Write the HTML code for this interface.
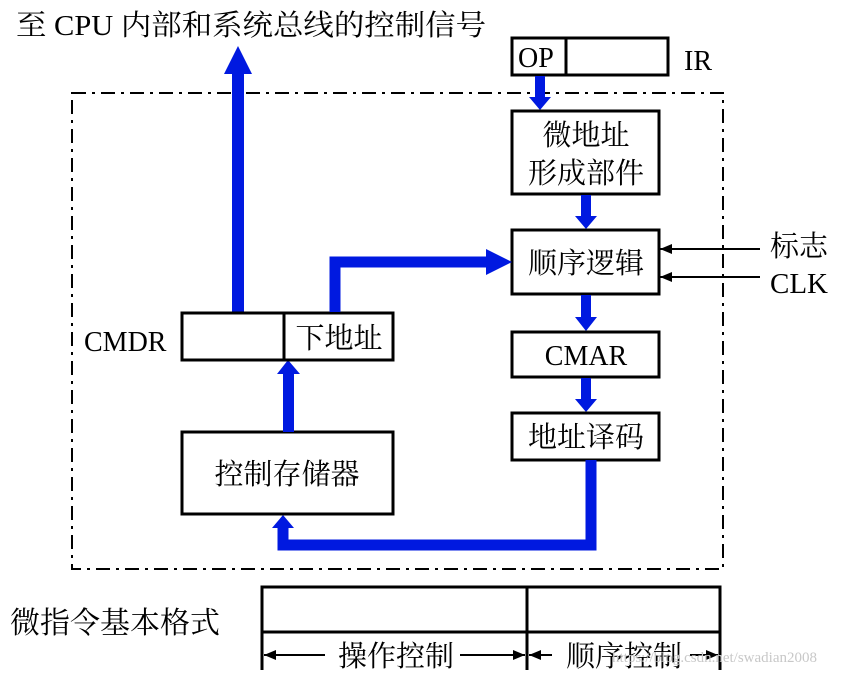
<!DOCTYPE html>
<html><head><meta charset="utf-8"><style>
html,body{margin:0;padding:0;background:#fff;}
svg{display:block;}
text{font-family:"Liberation Serif","Noto Serif CJK SC","Noto Sans CJK SC",serif;fill:#000;}
</style></head><body>
<svg width="849" height="676" viewBox="0 0 849 676" xmlns="http://www.w3.org/2000/svg">
<text x="16" y="35" font-size="29" textLength="470" lengthAdjust="spacingAndGlyphs">至 CPU 内部和系统总线的控制信号</text>
<rect x="72" y="93" width="651" height="476" fill="none" stroke="#000" stroke-width="2" stroke-dasharray="14,6,3,6"/>
<rect x="232" y="72" width="12" height="242" fill="#0019e0"/>
<polygon points="224,74 252,74 238,46" fill="#0019e0"/>
<rect x="512" y="38" width="156" height="37" fill="#fff" stroke="#000" stroke-width="3"/>
<line x1="566" y1="38" x2="566" y2="75" stroke="#000" stroke-width="3"/>
<text x="518" y="67" font-size="28">OP</text>
<text x="684" y="70" font-size="28">IR</text>
<rect x="535" y="76" width="10" height="22" fill="#0019e0"/>
<polygon points="529,97 551,97 540,110" fill="#0019e0"/>
<rect x="512" y="111" width="147" height="83" fill="#fff" stroke="#000" stroke-width="3"/>
<text x="586" y="145" font-size="29" text-anchor="middle">微地址</text>
<text x="586" y="183" font-size="29" text-anchor="middle">形成部件</text>
<rect x="581" y="195" width="10" height="22" fill="#0019e0"/>
<polygon points="575,216 597,216 586,229" fill="#0019e0"/>
<rect x="512" y="230" width="147" height="64" fill="#fff" stroke="#000" stroke-width="3"/>
<text x="586" y="273" font-size="29" text-anchor="middle">顺序逻辑</text>
<line x1="660" y1="249" x2="760" y2="249" stroke="#000" stroke-width="2"/>
<polygon points="660,249 672,244 672,254" fill="#000"/>
<line x1="660" y1="277" x2="760" y2="277" stroke="#000" stroke-width="2"/>
<polygon points="660,277 672,272 672,282" fill="#000"/>
<text x="770" y="256" font-size="29">标志</text>
<text x="770" y="293" font-size="29">CLK</text>
<rect x="581" y="295" width="10" height="23" fill="#0019e0"/>
<polygon points="575,317 597,317 586,331" fill="#0019e0"/>
<rect x="512" y="332" width="147" height="45" fill="#fff" stroke="#000" stroke-width="3"/>
<text x="586" y="365" font-size="28" text-anchor="middle" font-family="Liberation Sans">CMAR</text>
<rect x="581" y="378" width="10" height="22" fill="#0019e0"/>
<polygon points="575,399 597,399 586,412" fill="#0019e0"/>
<rect x="512" y="413" width="147" height="47" fill="#fff" stroke="#000" stroke-width="3"/>
<text x="586" y="447" font-size="29" text-anchor="middle">地址译码</text>
<polyline points="591,460 591,545 283,545 283,528" fill="none" stroke="#0019e0" stroke-width="11"/>
<polygon points="272,528 294,528 283,515" fill="#0019e0"/>
<rect x="182" y="432" width="211" height="82" fill="#fff" stroke="#000" stroke-width="3"/>
<text x="287" y="484" font-size="29" text-anchor="middle">控制存储器</text>
<rect x="283" y="372" width="11" height="60" fill="#0019e0"/>
<polygon points="277,374 300,374 288,360" fill="#0019e0"/>
<rect x="182" y="313" width="211" height="47" fill="#fff" stroke="#000" stroke-width="3"/>
<line x1="284" y1="313" x2="284" y2="360" stroke="#000" stroke-width="3"/>
<text x="84" y="351" font-size="28">CMDR</text>
<text x="339" y="348" font-size="29" text-anchor="middle">下地址</text>
<polyline points="335,312 335,262 488,262" fill="none" stroke="#0019e0" stroke-width="11"/>
<polygon points="486,249 486,275 512,262" fill="#0019e0"/>
<text x="10" y="633" font-size="30">微指令基本格式</text>
<rect x="262" y="587" width="458" height="45" fill="none" stroke="#000" stroke-width="3"/>
<line x1="527" y1="587" x2="527" y2="670" stroke="#000" stroke-width="3"/>
<line x1="262" y1="632" x2="262" y2="670" stroke="#000" stroke-width="3"/>
<line x1="720" y1="632" x2="720" y2="670" stroke="#000" stroke-width="3"/>
<line x1="264" y1="655" x2="325" y2="655" stroke="#000" stroke-width="2"/>
<polygon points="264,655 276,650 276,660" fill="#000"/>
<line x1="460" y1="655" x2="525" y2="655" stroke="#000" stroke-width="2"/>
<polygon points="525,655 513,650 513,660" fill="#000"/>
<text x="396" y="666" font-size="29" text-anchor="middle">操作控制</text>
<line x1="529" y1="655" x2="552" y2="655" stroke="#000" stroke-width="2"/>
<polygon points="529,655 541,650 541,660" fill="#000"/>
<line x1="690" y1="655" x2="718" y2="655" stroke="#000" stroke-width="2"/>
<polygon points="718,655 706,650 706,660" fill="#000"/>
<text x="624" y="666" font-size="29" text-anchor="middle">顺序控制</text>
<text x="612" y="662" font-size="15" style="fill:#c8c8c8" font-family="Liberation Sans">https://blog.csdn.net/swadian2008</text>
</svg>
</body></html>
